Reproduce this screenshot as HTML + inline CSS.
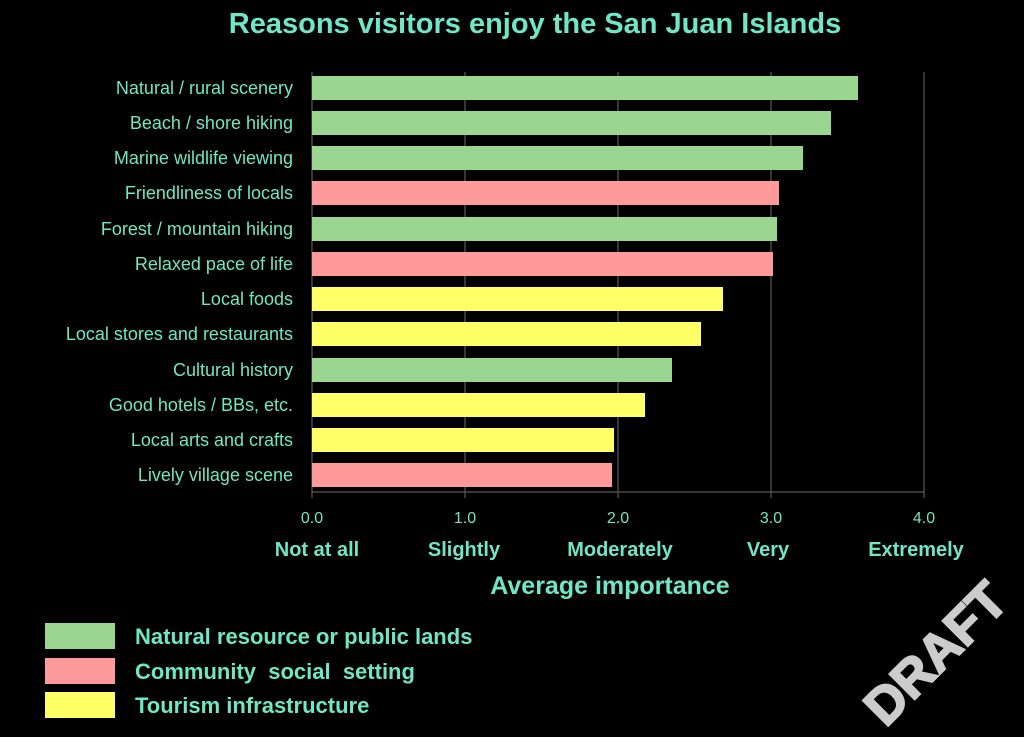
<!DOCTYPE html>
<html><head><meta charset="utf-8"><style>body{margin:0;background:#000}svg{display:block}</style></head>
<body>
<svg width="1024" height="737" xmlns="http://www.w3.org/2000/svg" font-family="Liberation Sans, sans-serif">
<rect width="1024" height="737" fill="#000"/>
<text x="535" y="33" text-anchor="middle" font-size="29" font-weight="bold" fill="#70e6c6">Reasons visitors enjoy the San Juan Islands</text>
<g stroke="#5a5a5a" stroke-width="1.2">
<line x1="465" y1="72" x2="465" y2="498"/>
<line x1="618" y1="72" x2="618" y2="498"/>
<line x1="771" y1="72" x2="771" y2="498"/>
<line x1="924" y1="72" x2="924" y2="498"/>
<line x1="312" y1="72" x2="312" y2="498"/>
<line x1="312" y1="492" x2="924" y2="492"/>
</g>
<g>
<rect x="312" y="76" width="546" height="24" fill="#9ad68f"/>
<rect x="312" y="111" width="519" height="24" fill="#9ad68f"/>
<rect x="312" y="146" width="491" height="24" fill="#9ad68f"/>
<rect x="312" y="181" width="467" height="24" fill="#ff9a9a"/>
<rect x="312" y="217" width="465" height="24" fill="#9ad68f"/>
<rect x="312" y="252" width="461" height="24" fill="#ff9a9a"/>
<rect x="312" y="287" width="411" height="24" fill="#ffff66"/>
<rect x="312" y="322" width="389" height="24" fill="#ffff66"/>
<rect x="312" y="358" width="360" height="24" fill="#9ad68f"/>
<rect x="312" y="393" width="333" height="24" fill="#ffff66"/>
<rect x="312" y="428" width="302" height="24" fill="#ffff66"/>
<rect x="312" y="463" width="300" height="24" fill="#ff9a9a"/>
</g>
<g font-size="18" fill="#70e6c6" text-anchor="end">
<text x="293" y="94">Natural / rural scenery</text>
<text x="293" y="129">Beach / shore hiking</text>
<text x="293" y="164">Marine wildlife viewing</text>
<text x="293" y="199">Friendliness of locals</text>
<text x="293" y="235">Forest / mountain hiking</text>
<text x="293" y="270">Relaxed pace of life</text>
<text x="293" y="305">Local foods</text>
<text x="293" y="340">Local stores and restaurants</text>
<text x="293" y="376">Cultural history</text>
<text x="293" y="411">Good hotels / BBs, etc.</text>
<text x="293" y="446">Local arts and crafts</text>
<text x="293" y="481">Lively village scene</text>
</g>
<g font-size="16" fill="#70e6c6" text-anchor="middle">
<text x="312" y="523">0.0</text><text x="465" y="523">1.0</text><text x="618" y="523">2.0</text><text x="771" y="523">3.0</text><text x="924" y="523">4.0</text>
</g>
<g font-size="20" font-weight="bold" fill="#70e6c6" text-anchor="middle">
<text x="317" y="556">Not at all</text><text x="464" y="556">Slightly</text><text x="620" y="556">Moderately</text><text x="768" y="556">Very</text><text x="916" y="556">Extremely</text>
</g>
<text x="610" y="594" text-anchor="middle" font-size="25" font-weight="bold" fill="#70e6c6">Average importance</text>
<rect x="45" y="623" width="70" height="26" fill="#9ad68f"/>
<rect x="45" y="658" width="70" height="26" fill="#ff9a9a"/>
<rect x="45" y="692" width="70" height="26" fill="#ffff66"/>
<g font-size="22" font-weight="bold" fill="#70e6c6">
<text x="135" y="644">Natural resource or public lands</text>
<text x="135" y="679">Community&#160; social&#160; setting</text>
<text x="135" y="713">Tourism infrastructure</text>
</g>
<text transform="translate(948,666) rotate(-45)" text-anchor="middle" font-size="52" font-weight="bold" fill="#cccccc" stroke="#cccccc" stroke-width="2">DRAFT</text>
</svg>
</body></html>
